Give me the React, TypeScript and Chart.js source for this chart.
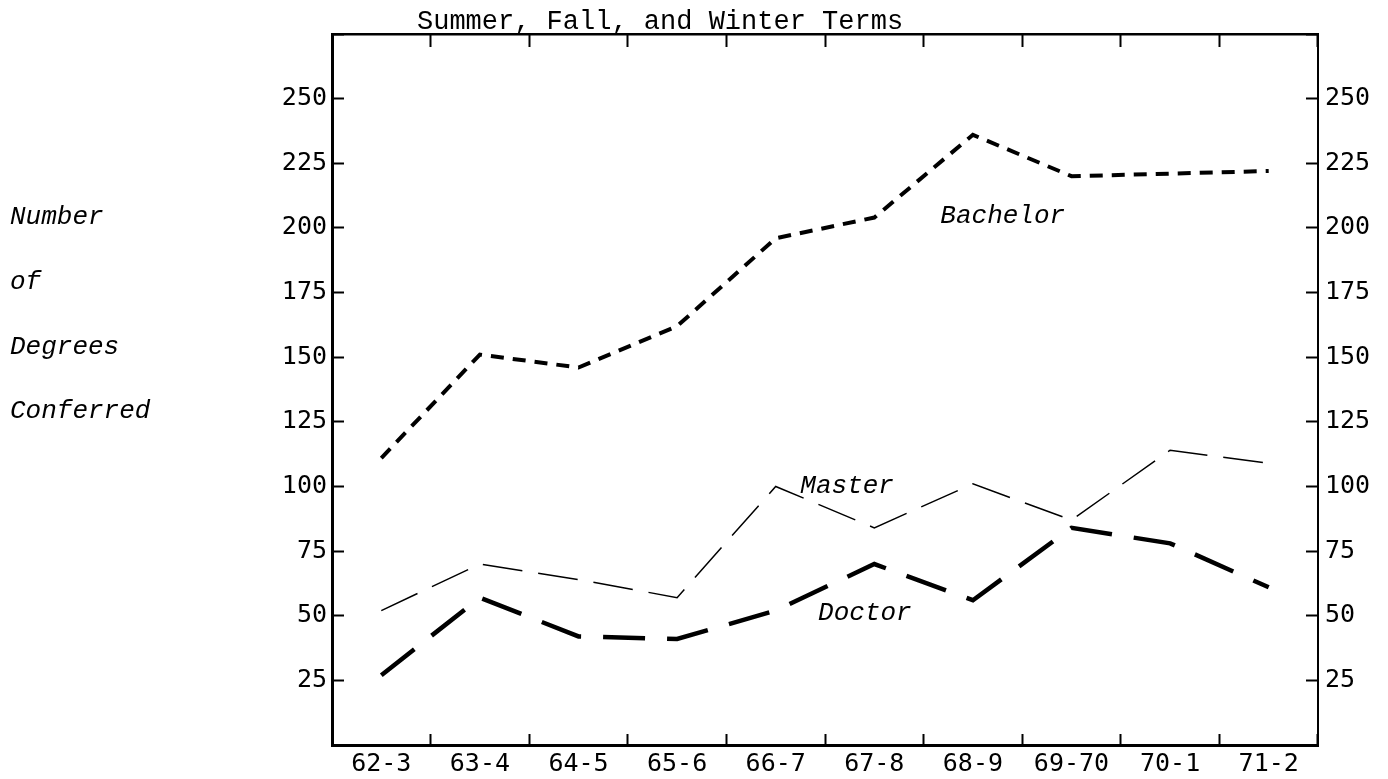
import { useEffect, useRef } from "react";
import { Chart, registerables } from "chart.js";

Chart.register(...registerables);

const categories = ["62-3", "63-4", "64-5", "65-6", "66-7", "67-8", "68-9", "69-70", "70-1", "71-2"];
const bachelor = [111, 151, 146, 162, 196, 204, 236, 220, 221, 222];
const master = [52, 70, 64, 57, 100, 84, 101, 87, 114, 109];
const doctor = [27, 57, 42, 41, 52, 70, 56, 84, 78, 61];
const yMin = 0;
const yMax = 275;
const yStep = 25;
const titleText = "Summer, Fall, and Winter Terms";
const axisTitleLines = ["Number", "of", "Degrees", "Conferred"];
const axisTitleValues = [204, 179, 154, 129];
const seriesNames = ["Bachelor", "Master", "Doctor"];
const seriesLabelIndex = [5.67, 4.25, 4.43];
const seriesLabelValue = [204.5, 100, 51];

const tickFont = { family: "'DejaVu Sans Mono'", size: 25 };

const textPlugin = {
  id: "texts",
  afterDraw(chart: any) {
    const { ctx, chartArea, scales } = chart;
    const x = scales.x;
    const y = scales.y;
    ctx.save();
    ctx.fillStyle = "#000";
    ctx.textAlign = "left";
    ctx.font = "27px 'Liberation Mono'";
    ctx.textBaseline = "alphabetic";
    ctx.fillText(titleText, chartArea.left + 85, chartArea.top - 5);
    ctx.font = "italic 26px 'Liberation Mono'";
    ctx.textBaseline = "middle";
    axisTitleLines.forEach((t, i) => {
      ctx.fillText(t, 10, y.getPixelForValue(axisTitleValues[i]));
    });
    seriesNames.forEach((t, i) => {
      ctx.fillText(t, x.getPixelForValue(seriesLabelIndex[i]), y.getPixelForValue(seriesLabelValue[i]));
    });
    ctx.restore();
  },
};

export default function App() {
  const ref = useRef<HTMLCanvasElement | null>(null);
  useEffect(() => {
    if (!ref.current) return;
    const hideEnds = (v: any) => (v === yMin || v === yMax ? "" : String(v));
    const chart = new Chart(ref.current, {
      type: "line",
      data: {
        labels: categories,
        datasets: [
          {
            label: seriesNames[0],
            data: bachelor,
            borderColor: "#000",
            borderWidth: 4,
            borderDash: [13, 9],
            pointRadius: 0,
            tension: 0,
            xAxisID: "x",
            yAxisID: "y",
          },
          {
            label: seriesNames[1],
            data: master,
            borderColor: "#000",
            borderWidth: 1.5,
            borderDash: [40, 16],
            pointRadius: 0,
            tension: 0,
            xAxisID: "x",
            yAxisID: "y",
          },
          {
            label: seriesNames[2],
            data: doctor,
            borderColor: "#000",
            borderWidth: 4.5,
            borderDash: [42, 22],
            pointRadius: 0,
            tension: 0,
            xAxisID: "x",
            yAxisID: "y",
          },
        ],
      },
      options: {
        animation: false,
        responsive: false,
        maintainAspectRatio: false,
        layout: { padding: 0 },
        plugins: {
          legend: { display: false },
          title: { display: false },
          tooltip: { enabled: false },
        },
        scales: {
          x: {
            type: "category",
            position: "bottom",
            offset: true,
            grid: { offset: true, drawOnChartArea: false, drawTicks: true, tickLength: -11, tickWidth: 2, color: "#000" },
            border: { display: true, color: "#000", width: 3 },
            ticks: { color: "#000", font: tickFont, padding: 15, maxRotation: 0, autoSkip: false },
            afterFit: (s: any) => { s.height = 34; },
          },
          xTop: {
            type: "category",
            position: "top",
            offset: true,
            labels: categories,
            grid: { offset: true, drawOnChartArea: false, drawTicks: true, tickLength: -13, tickWidth: 2, color: "#000" },
            border: { display: true, color: "#000", width: 2.5 },
            ticks: { display: false },
            afterFit: (s: any) => { s.height = 33; },
          },
          y: {
            type: "linear",
            position: "left",
            min: yMin,
            max: yMax,
            grid: { drawOnChartArea: false, drawTicks: true, tickLength: -12, tickWidth: 2, color: "#000" },
            border: { display: true, color: "#000", width: 3 },
            ticks: { stepSize: yStep, color: "#000", font: tickFont, padding: 17, callback: hideEnds },
            afterFit: (s: any) => { s.width = 332; },
          },
          y2: {
            type: "linear",
            position: "right",
            min: yMin,
            max: yMax,
            grid: { drawOnChartArea: false, drawTicks: true, tickLength: -12, tickWidth: 2, color: "#000" },
            border: { display: true, color: "#000", width: 2 },
            ticks: { stepSize: yStep, color: "#000", font: tickFont, padding: 19, callback: hideEnds },
            afterFit: (s: any) => { s.width = 70; },
          },
        },
      },
      plugins: [textPlugin],
    });
    return () => chart.destroy();
  }, []);
  return (
    <div style={{ position: "absolute", left: 0, top: 0, width: 1388, height: 779, background: "#fff" }}>
      <canvas ref={ref} width={1388} height={779} style={{ display: "block", width: 1388, height: 779 }} />
    </div>
  );
}
